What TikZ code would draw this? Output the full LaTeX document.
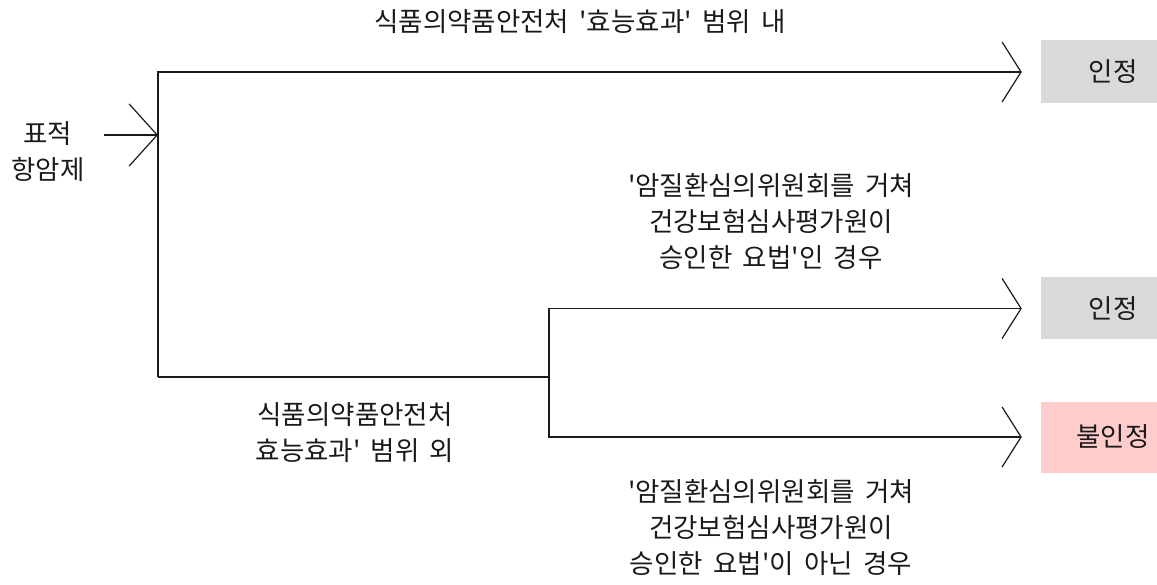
\documentclass[tikz,border=0pt]{standalone}
\usepackage{fontspec}
\setmainfont{Noto Sans CJK KR}
\usetikzlibrary{positioning,arrows.meta,calc}
\definecolor{ink}{HTML}{1a1a1a}
\definecolor{okfill}{HTML}{d9d9d9}
\definecolor{nofill}{HTML}{ffcccc}
\newcommand{\sq}{\textquotesingle}
\tikzset{
  lab/.style={font=\fontsize{26.5}{36}\selectfont,text=ink,align=center,inner sep=0pt},
  res/.style={lab,minimum width=144pt,minimum height=63pt,fill=okfill},
  nores/.style={res,fill=nofill,minimum height=71pt},
  wire/.style={line width=1.2pt,draw=ink},
  arr/.style={wire,-{Straight Barb[length=19pt,width=60pt,line width=1.2pt]},shorten >=19pt},
  inarr/.style={wire,-{Straight Barb[length=28pt,width=62pt,line width=1.2pt]}},
}
\begin{document}
\begin{tikzpicture}[x=1pt,y=-1pt]
\useasboundingbox (0,0) rectangle (1157,585);
\node[lab] (drug) at (48,152) {표적\\항암제};
\coordinate (j1) at (158,135);
\coordinate (j2) at (549,377);
\node[res] (ok1) at (1113,72) {인정};
\node[res,minimum height=62pt] (ok2) at (1113,308.5) {인정};
\node[nores] (no) at (1113,437) {불인정};
\draw[inarr] (104,135) coordinate (in) -- (j1);
\draw[arr] (j1 |- j2) -- (j1 |- ok1.west) -- (ok1.west);
\draw[wire] (j1 |- j2) -- (j2);
\draw[arr] (j2) -- (j2 |- ok2.west) -- (ok2.west);
\draw[arr] (j2) -- (j2 |- no.west) -- (no.west);
\node[lab] (inlab) at (580,22) {식품의약품안전처 \,\sq 효능효과\sq\, 범위 \,내};
\node[lab] (outlab) at (355,433) {식품의약품안전처\\효능효과\sq\, 범위 \,외};
\node[lab] (yeslab) at (771,222) {\sq 암질환심의위원회를 \,거쳐\\건강보험심사평가원이\\승인한 \,요법\sq 인 \,경우};
\node[lab] (notlab) at (771,528) {\sq 암질환심의위원회를 \,거쳐\\건강보험심사평가원이\\승인한 \,요법\sq 이 \,아닌 \,경우};
\end{tikzpicture}
\end{document}
